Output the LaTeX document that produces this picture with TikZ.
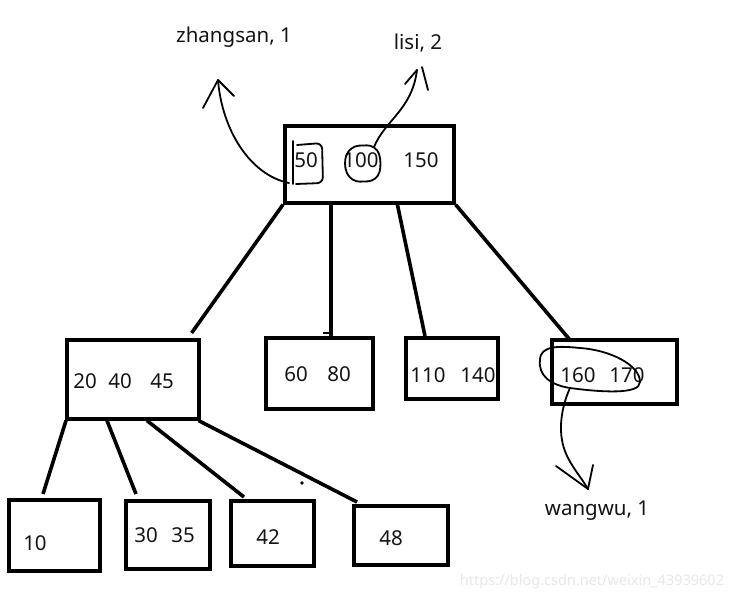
\documentclass[tikz,border=0pt]{standalone}
\usepackage{fontspec}
\setmainfont{Noto Sans}
\usetikzlibrary{calc}
\begin{document}
\begin{tikzpicture}[x=1pt,y=-1pt,
  box/.style={draw,line width=3.6pt,inner sep=0pt,anchor=north west},
  lbl/.style={inner sep=0pt,font=\fontsize{20.5}{24}\selectfont,text=black!92},
  edge/.style={line width=3.6pt},
  hand/.style={line width=1.8pt,line cap=round,line join=round}]
\useasboundingbox[fill=white] (0,0) rectangle (736,602);
% boxes
\node[box,minimum width=169pt,minimum height=77pt] (root) at (283,124) {};
\node[box,minimum width=132pt,minimum height=79pt] (b1) at (65,338) {};
\node[box,minimum width=107pt,minimum height=71pt] (b2) at (264,336) {};
\node[box,minimum width=92pt,minimum height=61pt] (b3) at (404,336) {};
\node[box,minimum width=125pt,minimum height=64pt] (b4) at (550,338) {};
\node[box,minimum width=91pt,minimum height=71pt] (c1) at (7,498) {};
\node[box,minimum width=84pt,minimum height=68pt] (c2) at (124,499) {};
\node[box,minimum width=83pt,minimum height=65pt] (c3) at (229,499) {};
\node[box,minimum width=94pt,minimum height=59pt] (c4) at (352,504) {};
% labels
\node[lbl] (t50) at (306,160) {50};
\node[lbl] (t100) at (361,160) {100};
\node[lbl] (t150) at (421,160) {150};
\node[lbl] (t20) at (85,381) {20};
\node[lbl] (t40) at (120,381) {40};
\node[lbl] (t45) at (162,381) {45};
\node[lbl] (t60) at (296,374) {60};
\node[lbl] (t80) at (339,374) {80};
\node[lbl] (t110) at (428,375) {110};
\node[lbl] (t140) at (478,375) {140};
\node[lbl] (t160) at (578,375) {160};
\node[lbl] (t170) at (627,375) {170};
\node[lbl] (t10) at (35,543) {10};
\node[lbl] (t30) at (146,535) {30};
\node[lbl] (t35) at (183,535) {35};
\node[lbl] (t42) at (268,537) {42};
\node[lbl] (t48) at (391,538) {48};
\node[lbl] (zs) at (234,37) {zhangsan, 1};
\node[lbl] (ls) at (418,43) {lisi, 2};
\node[lbl] (ww) at (597,511) {wangwu, 1};
\node[inner sep=0pt,font=\fontsize{14.5}{16}\selectfont,text=black!9] (wm) at (592,582) {https://blog.csdn.net/weixin\_43939602};
% edges from root
\draw[edge] (root.south west) -- ($(b1.north east)+(-9,-5)$);
\draw[edge] ($(root.south west)+(48,0)$) -- ($(b2.north west)+(67,0)$);
\draw[edge] ($(root.south west)+(114,-2)$) -- ($(b3.north west)+(21,0)$);
\draw[edge] (root.south east) -- ($(b4.north west)+(20,2)$);
% edges from b1
\draw[edge] ($(b1.south west)+(1,0)$) -- ($(c1.north west)+(36,-4)$);
\draw[edge] ($(b1.south west)+(42,0)$) -- ($(c2.north west)+(12,-5)$);
\draw[edge] ($(b1.south west)+(82,0)$) -- ($(c3.north west)+(15,-2)$);
\draw[edge] ($(b1.south east)+(-2,0)$) -- ($(c4.north west)+(5,-2)$);
% stray marks
\draw[line width=2.5pt] ($(b2.north west)+(59,-3)$) -- ($(b2.north west)+(67,-3)$);
\fill ($(c3.north west)+(73,-16)$) circle (1.8pt);
% zhangsan arrow
\coordinate (zs1) at (289,183);
\coordinate (zs2) at (218,80);
\draw[hand] (zs1) .. controls (250,175) and (222,130) .. (zs2);
\draw[hand] (203,108) -- (zs2) -- (234,96);
\draw[hand] (293,141) -- (293,184);
\draw[hand,rounded corners=6pt] (297,145) -- (322,143) -- (323,183) -- (296,184);
% lisi arrow
\draw[hand,rounded corners=9pt] (350,146) -- (376,145) -- (382,163) -- (377,181) -- (351,182) -- (343,164) -- cycle;
\coordinate (ls1) at (374,147);
\coordinate (ls2) at (417,70);
\draw[hand] (ls1) .. controls (385,120) and (412,110) .. (ls2);
\draw[hand] (405,84) -- (ls2);
\draw[hand] (422,67) -- (428,90);
% wangwu loop and arrow
\draw[hand] (570,388) .. controls (600,392) and (640,395) .. (640,382)
  .. controls (640,365) and (610,350) .. (580,348)
  .. controls (560,346) and (540,345) .. (540,360)
  .. controls (538,375) and (550,385) .. (570,388);
\coordinate (ww1) at (570,388);
\coordinate (ww2) at (588,489);
\draw[hand] (ww1) .. controls (560,410) and (560,430) .. (562,440) .. controls (565,460) and (580,475) .. (ww2);
\draw[hand] (556,466) -- (ww2) -- (593,465);
\end{tikzpicture}
\end{document}
